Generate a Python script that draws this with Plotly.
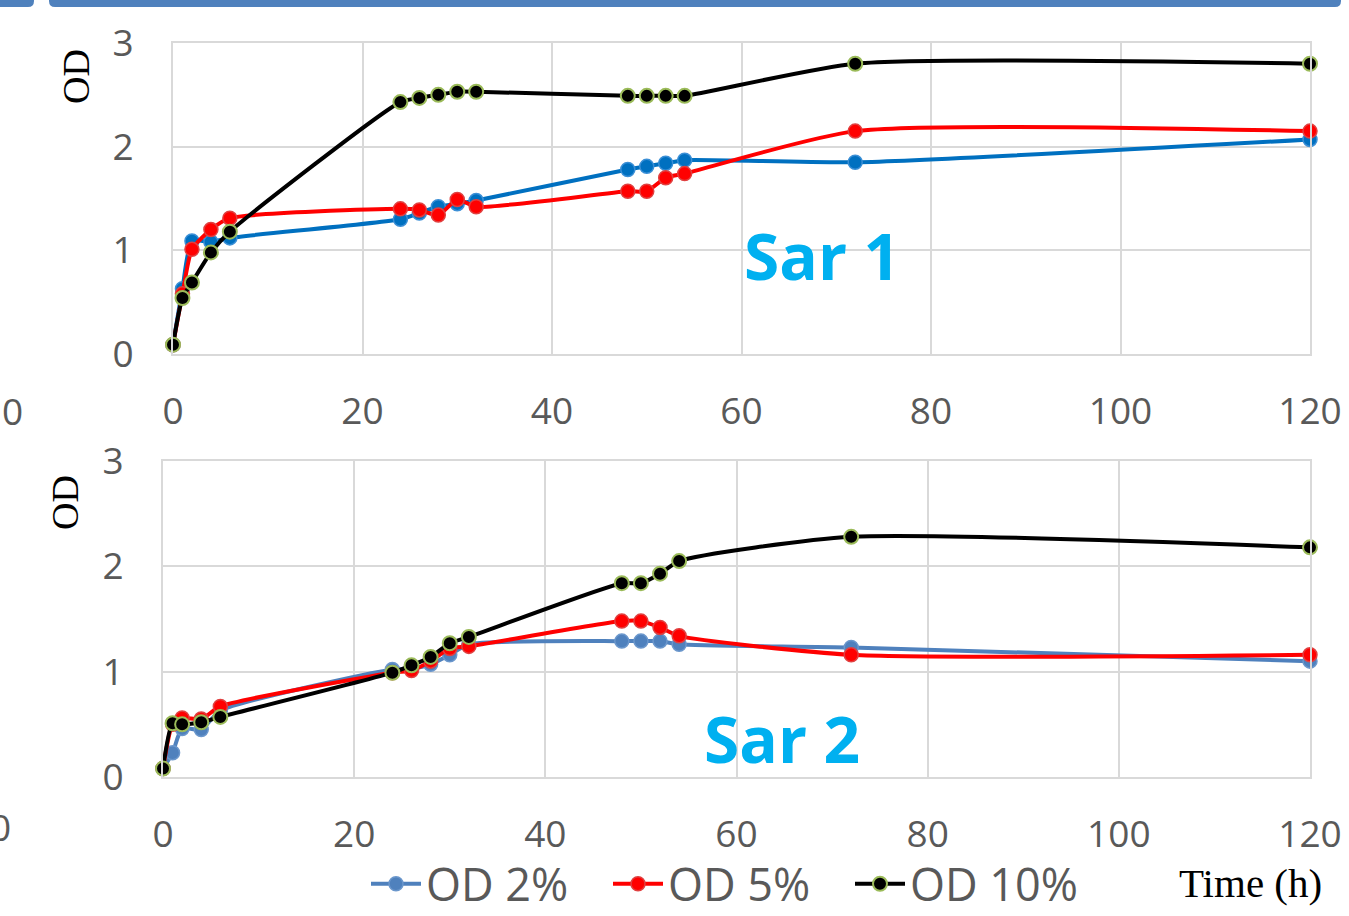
import plotly.graph_objects as go

W, H = 1349, 916

# ---------------- data ----------------
time_h = [0, 1, 2, 4, 6, 24, 26, 28, 30, 32, 48, 50, 52, 54, 72, 120]

sar1_od2 = [0.09, 0.63, 1.09, 1.08, 1.12, 1.30, 1.36, 1.42, 1.45, 1.48, 1.78, 1.81, 1.84, 1.87, 1.85, 2.07]
sar1_od5 = [0.09, 0.58, 1.01, 1.20, 1.31, 1.40, 1.39, 1.34, 1.49, 1.42, 1.57, 1.57, 1.70, 1.74, 2.15, 2.15]
sar1_od10 = [0.09, 0.54, 0.69, 0.98, 1.18, 2.43, 2.47, 2.50, 2.53, 2.53, 2.49, 2.49, 2.49, 2.49, 2.80, 2.80]

sar2_od2 = [0.08, 0.23, 0.46, 0.45, 0.63, 1.02, 1.03, 1.07, 1.16, 1.26, 1.29, 1.29, 1.29, 1.26, 1.23, 1.10]
sar2_od5 = [0.08, 0.50, 0.56, 0.55, 0.67, 0.99, 1.01, 1.10, 1.22, 1.24, 1.48, 1.48, 1.42, 1.34, 1.16, 1.16]
sar2_od10 = [0.08, 0.51, 0.50, 0.52, 0.57, 0.99, 1.06, 1.14, 1.27, 1.33, 1.84, 1.84, 1.93, 2.05, 2.28, 2.18]

series_names = ["OD 2%", "OD 5%", "OD 10%"]
x_ticks = [0, 20, 40, 60, 80, 100, 120]
y_ticks = [0, 1, 2, 3]


def px(x):
    return x / W


def py(y):
    return 1 - y / H


TICK_FONT = dict(family="Open Sans, sans-serif", size=37, color="#595959")
GRID = "#d9d9d9"

fig = go.Figure()

styles_top = [
    dict(color="#0070c0", mfill="#0070c0", mline="#3b8fd6", mw=1.5),
    dict(color="#ff0000", mfill="#ff0000", mline="#e04040", mw=1.5),
    dict(color="#000000", mfill="#000000", mline="#9bbb59", mw=2),
]
styles_bot = [
    dict(color="#4f81bd", mfill="#4f81bd", mline="#6b97cc", mw=1.5),
    dict(color="#ff0000", mfill="#ff0000", mline="#e04040", mw=1.5),
    dict(color="#000000", mfill="#000000", mline="#9bbb59", mw=2),
]

for ys, st, name in zip([sar1_od2, sar1_od5, sar1_od10], styles_top, series_names):
    fig.add_trace(go.Scatter(
        x=time_h, y=ys, name=name, mode="lines+markers", showlegend=False,
        line=dict(color=st["color"], width=4, shape="spline", smoothing=0.6),
        marker=dict(size=14, color=st["mfill"], line=dict(color=st["mline"], width=st["mw"])),
        cliponaxis=False, xaxis="x", yaxis="y"))

for ys, st, name in zip([sar2_od2, sar2_od5, sar2_od10], styles_bot, series_names):
    fig.add_trace(go.Scatter(
        x=time_h, y=ys, name=name, mode="lines+markers", showlegend=True,
        line=dict(color=st["color"], width=4, shape="spline", smoothing=0.6),
        marker=dict(size=14, color=st["mfill"], line=dict(color=st["mline"], width=st["mw"])),
        cliponaxis=False, xaxis="x2", yaxis="y2"))

common_x = dict(range=[0, 120], tickvals=x_ticks, ticktext=[str(v) for v in x_ticks],
                showgrid=True, gridcolor=GRID, gridwidth=2, showline=True, linecolor=GRID,
                linewidth=2, mirror=True, zeroline=False, ticks="", tickfont=TICK_FONT,
                ticklabelstandoff=24, fixedrange=True, automargin=False)
common_y = dict(range=[0, 3], tickvals=y_ticks, ticktext=[str(v) for v in y_ticks],
                showgrid=True, gridcolor=GRID, gridwidth=2, showline=True, linecolor=GRID,
                linewidth=2, mirror=True, zeroline=False, ticks="", tickfont=TICK_FONT,
                ticklabelstandoff=30, fixedrange=True, automargin=False)

fig.update_layout(
    width=W, height=H, margin=dict(l=0, r=0, t=0, b=0, pad=0, autoexpand=False),
    paper_bgcolor="white", plot_bgcolor="white",
    xaxis=dict(domain=[px(173), px(1310)], anchor="y", **common_x),
    yaxis=dict(domain=[py(354), py(43)], anchor="x", **common_y),
    xaxis2=dict(domain=[px(163), px(1310)], anchor="y2", **common_x),
    yaxis2=dict(domain=[py(777), py(461)], anchor="x2", **common_y),
    legend=dict(orientation="h", x=px(366), y=py(884), xanchor="left", yanchor="middle",
                font=dict(family="Open Sans, sans-serif", size=45, color="#595959"),
                itemwidth=50, entrywidth=177, entrywidthmode="pixels",
                bgcolor="rgba(0,0,0,0)", itemsizing="trace", tracegroupgap=0),
    showlegend=True,
)

annotations = [
    dict(text="Sar 1", x=px(822), y=py(255)),
    dict(text="Sar 2", x=px(782), y=py(738)),
]
anns = []
for a in annotations:
    anns.append(dict(text="<b>" + a["text"] + "</b>", x=a["x"], y=a["y"], xref="paper", yref="paper",
                     showarrow=False, xanchor="center", yanchor="middle",
                     font=dict(family="Open Sans, sans-serif", size=64, color="#00b0f0")))
anns.append(dict(text="OD", x=px(76), y=py(77), xref="paper", yref="paper", showarrow=False,
                 textangle=-90, xanchor="center", yanchor="middle",
                 font=dict(family="Liberation Serif, serif", size=38, color="black")))
anns.append(dict(text="OD", x=px(65), y=py(503), xref="paper", yref="paper", showarrow=False,
                 textangle=-90, xanchor="center", yanchor="middle",
                 font=dict(family="Liberation Serif, serif", size=38, color="black")))
anns.append(dict(text="Time (h)", x=px(1250), y=py(883), xref="paper", yref="paper", showarrow=False,
                 xanchor="center", yanchor="middle",
                 font=dict(family="Liberation Serif, serif", size=41, color="black")))
# cut-off labels from neighbouring panel at the left edge
anns.append(dict(text="0", x=px(12), y=py(410), xref="paper", yref="paper", showarrow=False,
                 xanchor="center", yanchor="middle", font=TICK_FONT))
anns.append(dict(text="0", x=px(0), y=py(826), xref="paper", yref="paper", showarrow=False,
                 xanchor="center", yanchor="middle", font=TICK_FONT))
fig.update_layout(annotations=anns)

# blue frame bars at the top edge
BLUE = "#4f81bd"


def bar_path(x0, x1, yb, r, round_left, round_right):
    top = py(-10)
    p = f"M {px(x0)} {top} "
    if round_left:
        p += f"L {px(x0)} {py(yb - r)} Q {px(x0)} {py(yb)} {px(x0 + r)} {py(yb)} "
    else:
        p += f"L {px(x0)} {py(yb)} "
    if round_right:
        p += f"L {px(x1 - r)} {py(yb)} Q {px(x1)} {py(yb)} {px(x1)} {py(yb - r)} "
    else:
        p += f"L {px(x1)} {py(yb)} "
    p += f"L {px(x1)} {top} Z"
    return p


fig.update_layout(shapes=[
    dict(type="path", xref="paper", yref="paper", path=bar_path(-5, 34, 7, 6, False, True),
         fillcolor=BLUE, line=dict(width=0), layer="above"),
    dict(type="path", xref="paper", yref="paper", path=bar_path(49, 1341, 7, 6, True, True),
         fillcolor=BLUE, line=dict(width=0), layer="above"),
])

fig.write_html("out.html", config={"displayModeBar": False},
               post_script="document.body.style.margin='0';document.body.style.overflow='hidden';")
